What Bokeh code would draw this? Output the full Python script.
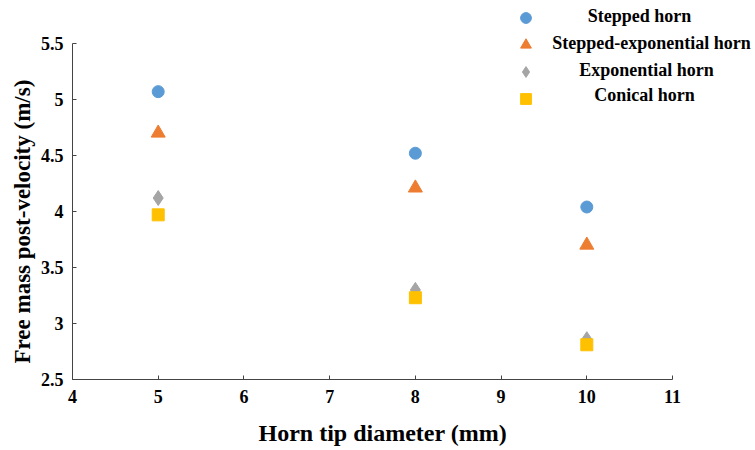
from bokeh.plotting import figure
from bokeh.models import Legend, LegendItem, Label, Range1d, FixedTicker, Title
from bokeh.embed import file_html
from bokeh.resources import INLINE

# Data
diameters = [5, 8, 10]
stepped = [5.07, 4.52, 4.04]
stepped_exp = [4.70, 4.21, 3.70]
exponential = [4.12, 3.30, 2.86]
conical = [3.97, 3.23, 2.81]

series_names = ["Stepped horn", "Stepped-exponential horn", "Exponential horn", "Conical horn"]
x_ticks = [4, 5, 6, 7, 8, 9, 10, 11]
y_ticks = [2.5, 3, 3.5, 4, 4.5, 5, 5.5]
x_axis_span = (4, 11)
y_axis_span = (2.5, 5.5)
x_title = "Horn tip diameter (mm)"
y_title = "Free mass post-velocity (m/s)"

FONT = "Liberation Serif"

# frame extends to the right/top to host the legend; axes are bounded to the data span
p = figure(width=755, height=450, output_backend="svg", toolbar_location=None,
           x_range=Range1d(4, 11.968), y_range=Range1d(2.5, 5.839),
           min_border_left=72, min_border_right=0, min_border_top=5, min_border_bottom=71,
           frame_width=683, frame_height=374)
p.outline_line_color = None
p.grid.visible = False
p.background_fill_color = "white"
p.border_fill_color = "white"

r1 = p.scatter(diameters, stepped, marker="circle", size=12, color="#5B9BD5")
r2 = p.scatter(diameters, stepped_exp, marker="triangle", size=14, color="#ED7D31")
r3 = p.scatter(diameters, exponential, marker="diamond", size=15, color="#A5A5A5")
r4 = p.scatter(diameters, conical, marker="square", size=12, color="#FFC000")

for ax in (p.xaxis[0], p.yaxis[0]):
    ax.major_label_text_font = FONT
    ax.major_label_text_font_style = "bold"
    ax.major_label_text_font_size = "18px"
    ax.major_label_text_color = "black"
    ax.axis_line_color = "#444444"
    ax.major_tick_line_color = "#444444"
    ax.major_tick_in = 4
    ax.major_tick_out = 0
    ax.minor_tick_line_color = None

p.xaxis[0].bounds = x_axis_span
p.yaxis[0].bounds = y_axis_span
p.xaxis[0].ticker = FixedTicker(ticks=x_ticks)
p.yaxis[0].ticker = FixedTicker(ticks=y_ticks)
p.xaxis[0].major_label_standoff = 10
p.yaxis[0].major_label_standoff = 9
p.yaxis[0].major_label_overrides = {5: "5", 4: "4", 3: "3"}

# axis titles placed along the bounded axes (the frame is wider/taller than the axes)
p.add_layout(Title(text=x_title, align="left", offset=186, standoff=25,
                   text_font=FONT, text_font_style="bold", text_font_size="24px",
                   text_color="black"), "below")
p.add_layout(Title(text=y_title, align="left", offset=16, standoff=6,
                   text_font=FONT, text_font_style="bold", text_font_size="23px",
                   text_color="black"), "left")

legend = Legend(items=[LegendItem(label=" ", renderers=[r]) for r in (r1, r2, r3, r4)],
                location=(440, 267), orientation="vertical",
                glyph_width=27, glyph_height=27, spacing=0, padding=0, margin=0,
                label_width=1, label_standoff=0, border_line_color=None,
                background_fill_alpha=0, label_text_font_size="1px")
p.add_layout(legend, "center")

text_x = [567, 579, 574, 572]
text_y = [364, 337, 310, 285]
for name, tx, ty in zip(series_names, text_x, text_y):
    p.add_layout(Label(x=tx, y=ty, x_units="screen", y_units="screen", text=name,
                       text_align="center", text_baseline="middle",
                       text_font=FONT, text_font_style="bold", text_font_size="18px",
                       text_color="black"))

open("out.html", "w").write(file_html(p, INLINE))
